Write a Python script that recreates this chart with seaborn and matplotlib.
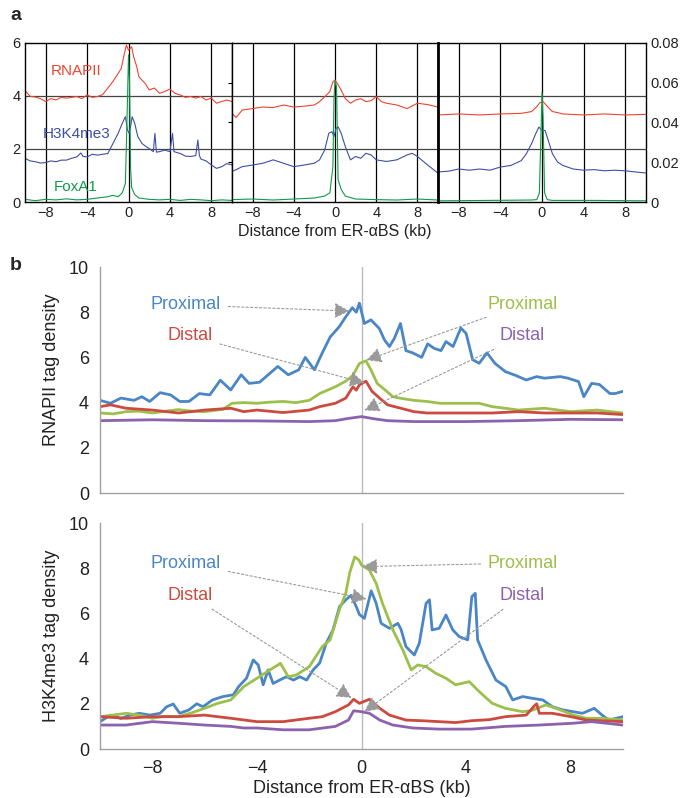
import pandas as pd
import matplotlib
matplotlib.use('Agg')
import matplotlib.pyplot as plt
import seaborn as sns

sns.set_style('white')
plt.rcParams['font.family'] = ['Liberation Sans', 'DejaVu Sans']

# ---------------- panel a data (kb, value) ----------------
# left block, scale 0-6
a1_rnap = [(-10, 4.2), (-9.5, 3.99), (-9, 3.96), (-8.5, 3.9), (-8, 3.79), (-7.5, 3.9), (-7, 3.85),
           (-6.5, 3.95), (-6, 3.92), (-5.5, 3.95), (-5, 3.98), (-4.5, 3.9), (-4, 4.04), (-3.5, 3.95),
           (-3, 3.98), (-2.5, 4.05), (-2, 4.3), (-1.5, 4.55), (-1, 4.85), (-0.7, 5.04), (-0.4, 5.6),
           (-0.2, 5.92), (0, 5.73), (0.3, 5.86), (0.5, 5.48), (0.8, 5.1), (1.0, 4.73), (1.3, 4.6),
           (1.6, 4.48), (2, 4.23), (2.5, 4.3), (3, 4.1), (3.5, 4.17), (4, 4.26), (4.5, 4.1), (5, 4.04),
           (5.5, 3.95), (6, 3.98), (6.5, 3.92), (7, 3.98), (7.5, 3.85), (8, 3.92), (8.5, 3.73),
           (9, 3.79), (9.5, 3.85), (10, 3.79)]
a1_h3k4 = [(-10, 1.65), (-9.5, 1.55), (-9, 1.52), (-8.5, 1.47), (-8, 1.49), (-7.5, 1.55), (-7, 1.52),
           (-6.5, 1.58), (-6, 1.58), (-5.5, 1.65), (-5, 1.7), (-4.6, 1.85), (-4.4, 1.72), (-4, 1.7),
           (-3.5, 1.8), (-3, 1.77), (-2.5, 1.8), (-2, 1.83), (-1.5, 2.21), (-1, 2.59), (-0.6, 2.97),
           (-0.3, 3.22), (-0.1, 2.72), (0.05, 2.6), (0.2, 2.84), (0.35, 3.22), (0.6, 2.97), (0.9, 2.47),
           (1.3, 2.21), (1.7, 2.09), (2, 2.02), (2.4, 1.9), (2.55, 2.59), (2.7, 1.88), (3, 1.9),
           (3.5, 1.96), (4, 1.9), (4.25, 2.59), (4.4, 1.9), (5, 1.83), (5.5, 1.73), (6, 1.72),
           (6.5, 1.75), (6.7, 2.34), (6.85, 1.75), (7, 1.62), (7.5, 1.55), (8, 1.4), (8.5, 1.27),
           (9, 1.33), (9.5, 1.45), (10, 1.4)]
a1_foxa1 = [(-10, 0.1), (-9, 0.05), (-8, 0.1), (-7, 0.08), (-6, 0.12), (-5, 0.08), (-4, 0.1), (-3, 0.15),
            (-2, 0.2), (-1.5, 0.25), (-1, 0.2), (-0.6, 0.35), (-0.3, 0.7), (-0.12, 3.5), (0, 5.55),
            (0.1, 4.5), (0.2, 1.3), (0.3, 0.55), (0.6, 0.28), (1, 0.15), (2, 0.1), (3, 0.08), (4, 0.1),
            (5, 0.06), (6, 0.1), (7, 0.08), (8, 0.05), (9, 0.08), (10, 0.06)]

# middle block, scale 0-0.08
a2_rnap = [(-10, 0.0446), (-9.6, 0.0425), (-9, 0.0463), (-8, 0.047), (-7, 0.0478), (-6, 0.0475),
           (-5, 0.0488), (-4, 0.0478), (-3, 0.0482), (-2, 0.0488), (-1.5, 0.0505), (-1, 0.053),
           (-0.5, 0.0555), (-0.2, 0.0605), (0, 0.0614), (0.3, 0.059), (0.6, 0.0563), (1, 0.052),
           (1.5, 0.0497), (2, 0.0513), (2.5, 0.052), (3, 0.0505), (3.5, 0.051), (4, 0.053),
           (4.5, 0.0505), (5, 0.0497), (6, 0.0488), (7, 0.047), (8, 0.0497), (9, 0.049), (10, 0.0478)]
a2_h3k4 = [(-10, 0.0153), (-9, 0.0178), (-8, 0.0186), (-7, 0.0195), (-6, 0.0212), (-5, 0.0195),
           (-4, 0.0178), (-3, 0.0186), (-2, 0.0195), (-1.5, 0.0212), (-1, 0.0262), (-0.6, 0.0346),
           (-0.3, 0.0354), (-0.1, 0.0329), (0.1, 0.037), (0.3, 0.0379), (0.6, 0.0346), (1, 0.0279),
           (1.5, 0.0212), (2, 0.0229), (2.5, 0.022), (3, 0.0245), (3.5, 0.0237), (4, 0.0212),
           (5, 0.0204), (6, 0.0212), (7, 0.0237), (7.5, 0.0245), (8, 0.0229), (9, 0.0186), (10, 0.0145)]
a2_foxa1 = [(-10, 0.0012), (-8, 0.0015), (-6, 0.001), (-4, 0.0015), (-2, 0.002), (-1, 0.003),
            (-0.5, 0.0046), (-0.2, 0.018), (-0.1, 0.052), (0, 0.061), (0.15, 0.058), (0.3, 0.0113),
            (0.6, 0.0063), (1, 0.003), (2, 0.0015), (4, 0.0012), (6, 0.001), (8, 0.0015), (10, 0.001)]

# right block, scale 0-0.08
a3_rnap = [(-10, 0.0438), (-8, 0.0443), (-6, 0.0438), (-4, 0.0443), (-2, 0.0446), (-1, 0.0455),
           (-0.5, 0.048), (-0.2, 0.05), (0.1, 0.0505), (0.4, 0.0488), (0.7, 0.047), (1, 0.0455),
           (1.5, 0.045), (2, 0.0443), (4, 0.0438), (6, 0.0443), (8, 0.0438), (10, 0.0441)]
a3_h3k4 = [(-10, 0.0151), (-9, 0.0155), (-8, 0.0166), (-7, 0.016), (-6, 0.0166), (-5, 0.016),
           (-4, 0.0176), (-3, 0.0184), (-2, 0.0208), (-1.5, 0.0243), (-1, 0.0294), (-0.6, 0.0344),
           (-0.3, 0.0377), (0, 0.036), (0.3, 0.036), (0.6, 0.031), (1, 0.0243), (1.5, 0.0201),
           (2, 0.0184), (3, 0.0166), (4, 0.016), (5, 0.0163), (6, 0.0157), (7, 0.016), (8, 0.0157),
           (9, 0.0151), (10, 0.0146)]
a3_foxa1 = [(-10, 0.0006), (-5, 0.0008), (-1, 0.001), (-0.5, 0.0012), (-0.25, 0.0046), (-0.1, 0.0344),
            (0, 0.055), (0.1, 0.0428), (0.25, 0.0046), (0.5, 0.0012), (1, 0.0008), (5, 0.0008),
            (10, 0.0006)]

# ---------------- panel b data (kb, tag density) ----------------
rnap_prox = [(-10, 4.1), (-9.6, 3.97), (-9.2, 4.2), (-8.7, 4.1), (-8.4, 4.26), (-8.1, 4.05), (-7.7, 4.44),
             (-7.3, 4.34), (-6.95, 4.05), (-6.6, 4.05), (-6.2, 4.4), (-5.8, 4.34), (-5.4, 4.99),
             (-5.0, 4.56), (-4.6, 5.23), (-4.3, 4.85), (-3.9, 4.9), (-3.5, 5.3), (-3.2, 5.6),
             (-2.8, 5.23), (-2.4, 5.45), (-2.15, 6.0), (-1.8, 5.45), (-1.5, 6.2), (-1.2, 6.9),
             (-0.85, 7.36), (-0.6, 7.8), (-0.35, 8.2), (-0.2, 8.0), (-0.08, 8.4), (0.11, 7.5),
             (0.36, 7.66), (0.68, 7.28), (0.88, 6.77), (1.07, 6.48), (1.26, 6.85), (1.49, 7.5), (1.7, 6.3),
             (1.96, 6.2), (2.3, 6.0), (2.53, 6.6), (2.78, 6.4), (3.04, 6.3), (3.23, 6.7), (3.5, 6.48),
             (3.8, 7.3), (4.0, 7.06), (4.25, 5.9), (4.5, 5.74), (4.8, 6.2), (5.1, 5.74), (5.5, 5.37),
             (5.9, 5.2), (6.3, 5.0), (6.7, 5.15), (7.0, 5.08), (7.6, 5.15), (7.9, 5.08), (8.3, 4.93),
             (8.5, 4.26), (8.8, 4.85), (9.1, 4.8), (9.5, 4.4), (9.7, 4.4), (10, 4.5)]
rnap_prox_g = [(-10, 3.54), (-9.5, 3.5), (-9, 3.6), (-8.5, 3.62), (-8, 3.54), (-7.5, 3.62), (-7, 3.69),
               (-6.5, 3.62), (-6, 3.6), (-5.3, 3.7), (-4.95, 3.97), (-4.5, 4.0), (-4, 3.97), (-3.5, 4.02),
               (-3, 4.05), (-2.5, 4.0), (-2, 4.1), (-1.6, 4.4), (-1.0, 4.7), (-0.6, 4.95), (-0.33, 5.2),
               (-0.08, 5.73), (0.17, 5.85), (0.36, 5.45), (0.6, 4.85), (0.9, 4.56), (1.2, 4.26),
               (1.5, 4.19), (2.0, 4.1), (2.5, 4.05), (3.0, 3.97), (3.5, 3.97), (4.0, 3.97), (4.5, 3.97),
               (5.0, 3.82), (5.5, 3.75), (6.0, 3.67), (7.0, 3.75), (8.0, 3.6), (9.0, 3.67), (10, 3.54)]
rnap_dist = [(-10, 3.82), (-9.6, 3.9), (-9, 3.75), (-8, 3.67), (-7, 3.54), (-6, 3.67), (-5, 3.75),
             (-4.5, 3.6), (-4, 3.67), (-3, 3.56), (-2, 3.67), (-1.6, 3.82), (-1, 3.97), (-0.6, 4.2),
             (-0.33, 4.7), (-0.2, 4.55), (-0.08, 4.78), (0.17, 4.95), (0.4, 4.5), (0.7, 4.19),
             (1.0, 3.9), (1.5, 3.75), (2.0, 3.6), (2.5, 3.54), (3.0, 3.54), (4.0, 3.54), (5.0, 3.54),
             (6.0, 3.6), (7.0, 3.54), (8.0, 3.54), (9.0, 3.54), (10, 3.47)]
rnap_dist_p = [(-10, 3.2), (-8, 3.24), (-6, 3.2), (-4, 3.19), (-2, 3.16), (-1, 3.2), (-0.5, 3.3),
               (0, 3.38), (0.5, 3.28), (1, 3.2), (2, 3.16), (4, 3.16), (6, 3.2), (8, 3.26), (10, 3.24)]

h3_prox = [(-10, 1.21), (-9.6, 1.5), (-9.2, 1.35), (-8.85, 1.5), (-8.5, 1.58), (-8.1, 1.5), (-7.7, 1.58),
           (-7.45, 1.87), (-7.2, 1.99), (-6.95, 1.58), (-6.6, 1.73), (-6.3, 2.0), (-6.06, 1.87),
           (-5.7, 2.17), (-5.3, 2.32), (-4.9, 2.4), (-4.7, 2.76), (-4.4, 3.13), (-4.14, 3.94),
           (-3.95, 3.72), (-3.76, 2.84), (-3.57, 3.5), (-3.38, 2.9), (-3.13, 3.05), (-2.87, 3.2),
           (-2.6, 3.05), (-2.36, 3.2), (-2.1, 3.05), (-1.85, 3.5), (-1.6, 3.8), (-1.35, 4.68),
           (-1.09, 5.27), (-0.84, 6.3), (-0.6, 6.6), (-0.4, 6.8), (-0.2, 6.3), (-0.08, 5.95),
           (0.11, 5.78), (0.37, 7.0), (0.56, 6.45), (0.75, 5.56), (1.07, 5.34), (1.39, 5.56),
           (1.51, 5.3), (1.7, 4.53), (2.02, 4.16), (2.21, 4.68), (2.47, 6.45), (2.6, 6.6), (2.7, 5.27),
           (2.97, 5.34), (3.23, 5.93), (3.49, 5.27), (3.74, 4.97), (4.06, 4.83), (4.22, 6.74),
           (4.35, 6.89), (4.44, 4.83), (4.76, 3.94), (5.14, 3.05), (5.52, 2.76), (5.78, 2.17),
           (6.16, 2.32), (6.55, 2.24), (6.93, 2.17), (7.3, 1.87), (7.7, 1.73), (8.1, 1.65),
           (8.45, 1.58), (8.9, 1.8), (9.2, 1.5), (9.46, 1.28), (10, 1.43)]
h3_prox_g = [(-10, 1.43), (-9.5, 1.5), (-9, 1.58), (-8.5, 1.5), (-8, 1.36), (-7.5, 1.45), (-7, 1.43),
             (-6.5, 1.6), (-6, 1.8), (-5.5, 2.02), (-5, 2.17), (-4.5, 2.76), (-4, 3.13), (-3.5, 3.5),
             (-3.1, 3.79), (-2.8, 3.2), (-2.5, 3.27), (-2, 3.64), (-1.5, 4.53), (-1.2, 4.83),
             (-0.85, 6.15), (-0.6, 6.9), (-0.45, 7.8), (-0.26, 8.5), (-0.1, 8.36), (0.0, 8.14),
             (0.3, 7.92), (0.56, 7.33), (0.8, 6.45), (1.2, 5.27), (1.58, 4.38), (1.9, 3.5),
             (2.15, 3.72), (2.47, 3.64), (2.84, 3.35), (3.23, 3.13), (3.6, 2.84), (4.12, 2.98),
             (4.5, 2.54), (5.0, 2.02), (5.5, 1.8), (6.16, 1.65), (6.5, 1.7), (7.05, 1.95), (7.6, 1.73),
             (8.1, 1.5), (8.6, 1.36), (9.2, 1.36), (10, 1.28)]
h3_dist = [(-10, 1.43), (-9, 1.36), (-8, 1.43), (-7, 1.43), (-6, 1.5), (-5, 1.36), (-4, 1.21), (-3, 1.21),
           (-2, 1.36), (-1.5, 1.43), (-1, 1.65), (-0.5, 1.95), (-0.3, 2.2), (-0.08, 2.02), (0.3, 2.2),
           (0.7, 1.8), (1.07, 1.5), (1.7, 1.28), (2.34, 1.25), (2.97, 1.21), (3.6, 1.17), (4.2, 1.25),
           (4.9, 1.3), (5.5, 1.43), (6.3, 1.5), (6.6, 1.9), (6.7, 2.0), (6.8, 1.58), (7.3, 1.58),
           (8.0, 1.43), (8.6, 1.28), (10, 1.21)]
h3_dist_p = [(-10, 1.06), (-9, 1.06), (-8, 1.21), (-7, 1.14), (-6, 1.06), (-5, 1.0), (-4.5, 0.93),
             (-4, 0.93), (-3, 0.85), (-2, 0.85), (-1, 1.0), (-0.5, 1.28), (-0.3, 1.69), (0.0, 1.65),
             (0.3, 1.58), (0.7, 1.28), (1.2, 1.06), (1.96, 0.93), (2.97, 0.88), (4.2, 0.88), (5.5, 1.0),
             (6.8, 1.06), (8.1, 1.14), (8.8, 1.21), (10, 1.06)]

c_rnap, c_h3, c_fox = '#ef4430', '#3d4fa6', '#0f9a4a'
c_blue, c_green, c_red, c_purple = '#4a86c5', '#9cc04b', '#cc4a3f', '#8c62ae'


def to_df(pairs):
    return pd.DataFrame(pairs, columns=['kb', 'val'])


W, H = 681, 798


def box(x0, y0, x1, y1):
    return [x0 / W, 1 - y1 / H, (x1 - x0) / W, (y1 - y0) / H]


fig = plt.figure(figsize=(6.81, 7.98), dpi=100)

# ---------------- panel a ----------------
ax1 = fig.add_axes(box(25, 43, 232, 202))
ax2 = fig.add_axes(box(232, 43, 438, 202))
ax3 = fig.add_axes(box(438, 43, 646, 202))

for ax, r, b, g, top in [(ax1, a1_rnap, a1_h3k4, a1_foxa1, 6),
                         (ax2, a2_rnap, a2_h3k4, a2_foxa1, 0.08),
                         (ax3, a3_rnap, a3_h3k4, a3_foxa1, 0.08)]:
    for v in [-8, -4, 0, 4, 8]:
        ax.axvline(v, color='black', lw=0.9, zorder=0)
    for f in [2 / 6, 4 / 6]:
        ax.axhline(top * f, color='#444444', lw=0.9, zorder=0)
    for pairs, col in [(r, c_rnap), (b, c_h3), (g, c_fox)]:
        sns.lineplot(data=to_df(pairs), x='kb', y='val', ax=ax, color=col, lw=0.8,
                     estimator=None, sort=False)
    ax.set_xlim(-10, 10)
    ax.set_ylim(0, top)
    ax.set_xticks([-8, -4, 0, 4, 8])
    ax.set_xlabel('')
    ax.set_ylabel('')
    ax.tick_params(axis='x', length=0, labelsize=10.5, pad=3, colors='#222222')
    for s in ax.spines.values():
        s.set_color('black')
        s.set_linewidth(1)

ax1.set_yticks([0, 2, 4, 6])
ax1.tick_params(axis='y', length=0, labelsize=10.5, pad=3, colors='#222222')
ax2.set_yticks([0.02, 0.04, 0.06])
ax2.tick_params(axis='y', left=True, labelleft=False, length=3, direction='out', color='black')
ax3.yaxis.tick_right()
ax3.set_yticks([0, 0.02, 0.04, 0.06, 0.08])
ax3.set_yticklabels(['0', '0.02', '0.04', '0.06', '0.08'])
ax3.tick_params(axis='y', length=0, labelsize=10.5, pad=3, colors='#222222')
ax3.spines['left'].set_linewidth(2)

ax1.text(-5.1, 4.94, 'RNAPII', color=c_rnap, fontsize=11, ha='center', va='center')
ax1.text(-5.0, 2.57, 'H3K4me3', color=c_h3, fontsize=11, ha='center', va='center')
ax1.text(-5.1, 0.57, 'FoxA1', color=c_fox, fontsize=11, ha='center', va='center')
ax2.set_xlabel('Distance from ER-\u03b1BS (kb)', fontsize=11.5, labelpad=3, color='#222222')

# ---------------- panel b ----------------
bx1 = fig.add_axes(box(100, 267, 623, 493))
bx2 = fig.add_axes(box(100, 523, 623, 749))

arrow = dict(arrowstyle='-|>,head_length=0.7,head_width=0.36', color='#9a9a9a', lw=0.8,
             ls=(0, (2, 2)), shrinkA=3, shrinkB=0, mutation_scale=13)

panels_b = [
    (bx1, [(rnap_prox, c_blue), (rnap_prox_g, c_green), (rnap_dist, c_red), (rnap_dist_p, c_purple)],
     'RNAPII tag density', 0.546,
     [('Proximal', c_blue, (-0.46, 8.05), (-6.72, 8.32)),
      ('Distal', c_red, (0.11, 4.87), (-6.56, 6.95)),
      ('Proximal', c_green, (0.19, 5.88), (6.18, 8.36)),
      ('Distal', c_purple, (0.11, 3.65), (6.15, 6.95))]),
    (bx2, [(h3_prox, c_blue), (h3_prox_g, c_green), (h3_dist, c_red), (h3_dist_p, c_purple)],
     'H3K4me3 tag density', 0.5,
     [('Proximal', c_blue, (0.19, 6.64), (-6.72, 8.23)),
      ('Distal', c_red, (-0.38, 2.26), (-6.56, 6.81)),
      ('Proximal', c_green, (0.04, 8.07), (6.18, 8.23)),
      ('Distal', c_purple, (0.11, 1.65), (6.15, 6.81))]),
]

for ax, series, ylab, ypos, notes in panels_b:
    ax.axvline(0, color='#bbbbbb', lw=1, zorder=0)
    for pairs, col in series:
        sns.lineplot(data=to_df(pairs), x='kb', y='val', ax=ax, color=col, lw=2.0,
                     estimator=None, sort=False)
    ax.set_xlim(-10, 10)
    ax.set_ylim(0, 10)
    ax.set_xticks(range(-10, 11, 2))
    ax.set_yticks(range(0, 11, 2))
    ax.set_xlabel('')
    ax.set_ylabel(ylab, fontsize=13, color='#222222')
    ax.yaxis.set_label_coords(-0.077, ypos)
    sns.despine(ax=ax)
    for s in ['left', 'bottom']:
        ax.spines[s].set_color('#a0a0a0')
        ax.spines[s].set_linewidth(1)
    ax.tick_params(axis='both', length=5, width=1, color='#a0a0a0', labelcolor='#222222',
                   labelsize=13, pad=3, direction='out')
    for label, col, tip, txt in notes:
        ax.annotate(label, xy=tip, xytext=txt, color=col, fontsize=13, ha='center', va='center',
                    arrowprops=arrow)

bx1.set_xticklabels([])
bx2.set_xticklabels(['', '\u22128', '', '\u22124', '', '0', '', '4', '', '8', ''])
bx2.set_xlabel('Distance from ER-\u03b1BS (kb)', fontsize=13, color='#222222', labelpad=2)

fig.text(10 / W, 1 - 15 / H, 'a', fontsize=14, fontweight='bold', ha='left', va='center')
fig.text(10 / W, 1 - 265 / H, 'b', fontsize=14, fontweight='bold', ha='left', va='center')

fig.savefig('out.png', dpi=100)
